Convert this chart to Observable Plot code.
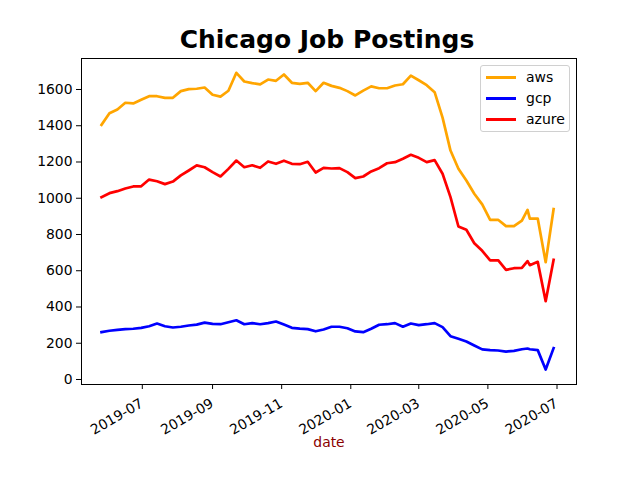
<!DOCTYPE html>
<html>
<head>
<meta charset="utf-8">
<script src="https://cdn.jsdelivr.net/npm/d3@7"></script>
<script src="https://cdn.jsdelivr.net/npm/@observablehq/plot@0.6"></script>
<style>
  html, body { margin: 0; padding: 0; background: #fff; }
  #wrap { position: relative; width: 640px; height: 480px; font-family: "DejaVu Sans", sans-serif; }
  #title { height: 50px; box-sizing: border-box; padding-top: 27px; text-align: center; font-weight: bold; font-size: 25px; line-height: 25px; color: #000; padding-left: 14px; font-family: "DejaVu Sans", sans-serif; }
  #legend { position: absolute; left: 480px; top: 65px; width: 90px; height: 67px; box-sizing: border-box; border: 1px solid #d0d0d0; border-radius: 3px; background: rgba(255,255,255,0.8); }
  .lg-row { position: absolute; left: 0; height: 20px; width: 100%; }
  .lg-sw { position: absolute; left: 5px; top: 9px; width: 30px; height: 3px; }
  .lg-tx { position: absolute; left: 45px; top: 0px; font-size: 14px; line-height: 20px; color: #000; }
  #chart svg [aria-label="y-axis tick label"] { font-size: 13.9px; font-family: "DejaVu Sans", sans-serif; }
</style>
</head>
<body>
<div id="wrap">
  <div id="title"></div>
  <div id="chart"></div>
  <div id="legend"></div>
</div>
<script>
const titleText = "Chicago Job Postings";
const xLabel = ["date"];
const series = ["aws", "gcp", "azure"];
const colors = ["orange", "blue", "red"];

const dates = [
  "2019-05-26","2019-06-02","2019-06-09","2019-06-16","2019-06-23","2019-06-30",
  "2019-07-07","2019-07-14","2019-07-21","2019-07-28",
  "2019-08-04","2019-08-11","2019-08-18","2019-08-25",
  "2019-09-01","2019-09-08","2019-09-15","2019-09-22","2019-09-29",
  "2019-10-06","2019-10-13","2019-10-20","2019-10-27",
  "2019-11-03","2019-11-10","2019-11-17","2019-11-24",
  "2019-12-01","2019-12-08","2019-12-15","2019-12-22","2019-12-29",
  "2020-01-05","2020-01-12","2020-01-19","2020-01-26",
  "2020-02-02","2020-02-09","2020-02-16","2020-02-23",
  "2020-03-01","2020-03-08","2020-03-15","2020-03-22","2020-03-29",
  "2020-04-05","2020-04-12","2020-04-19","2020-04-26",
  "2020-05-03","2020-05-10","2020-05-17","2020-05-24","2020-05-31",
  "2020-06-05","2020-06-07","2020-06-14","2020-06-21","2020-06-28"
];

const aws = [1405,1469,1490,1527,1523,1543,1563,1563,1554,1554,
             1591,1602,1604,1611,1571,1561,1593,1692,1644,1635,
             1628,1655,1648,1683,1637,1631,1637,1591,1637,1620,
             1609,1591,1567,1594,1617,1607,1607,1622,1629,1677,
             1651,1624,1585,1445,1263,1163,1098,1025,966,881,
             881,846,846,877,936,888,888,647,940];
const gcp = [261,269,274,278,280,285,294,309,294,287,
             291,298,303,314,307,305,316,327,305,311,
             305,311,320,303,285,281,278,266,276,291,
             291,283,265,261,280,302,305,311,291,309,
             300,305,311,289,239,225,210,188,166,162,
             160,154,158,167,171,167,162,55,173];
const azure = [1006,1028,1039,1054,1065,1066,1103,1094,1078,1092,
               1126,1153,1181,1171,1144,1120,1162,1208,1171,1182,
               1168,1203,1190,1207,1190,1188,1201,1142,1168,1164,
               1166,1144,1111,1120,1148,1166,1193,1199,1218,1240,
               1223,1199,1210,1135,1006,844,826,752,710,657,
               658,605,614,616,653,631,649,432,660];

const yTicks = [0, 200, 400, 600, 800, 1000, 1200, 1400, 1600];
const xTicks = ["2019-07-01","2019-09-01","2019-11-01","2020-01-01","2020-03-01","2020-05-01","2020-07-01"];

const valuesBySeries = { aws, gcp, azure };
const rows = [];
for (const s of series) {
  valuesBySeries[s].forEach((v, i) => rows.push({ series: s, date: new Date(dates[i] + "T00:00:00Z"), value: v }));
}
const xTickDates = xTicks.map(d => new Date(d + "T00:00:00Z"));
const fmtMonth = d3.utcFormat("%Y-%m");

document.getElementById("title").textContent = titleText;

const chart = Plot.plot({
  width: 640,
  height: 430,
  marginTop: 8,
  marginBottom: 96,
  marginLeft: 81,
  marginRight: 64,
  style: { fontFamily: "DejaVu Sans, sans-serif", fontSize: "13px", background: "white", color: "black", overflow: "visible" },
  x: { type: "utc", domain: [new Date("2019-05-08T08:00:00Z"), new Date("2020-07-18T05:00:00Z")] },
  y: { domain: [-27.6, 1771] },
  color: { domain: series, range: colors },
  marks: [
    Plot.lineY(rows, { x: "date", y: "value", stroke: "series", z: "series", strokeWidth: 2.7, strokeLinecap: "square", strokeLinejoin: "round" }),
    Plot.frame({ stroke: "black", strokeWidth: 1 }),
    Plot.axisY({ ticks: yTicks, tickFormat: d => String(d), tickSize: 5, tickPadding: 4, label: null }),
    Plot.axisX({ ticks: xTickDates, tickFormat: () => "", tickSize: 5, label: null }),
    Plot.text(xTickDates, { x: d => d, text: d => fmtMonth(d), frameAnchor: "bottom", rotate: -30, textAnchor: "end", lineAnchor: "top", dx: -3, dy: 13, fontSize: 13.9, fill: "black" }),
    Plot.text(xLabel, { frameAnchor: "bottom", dy: 62, text: d => d, fill: "darkred", fontSize: 13.9 })
  ]
});
document.getElementById("chart").appendChild(chart);

const legend = document.getElementById("legend");
series.forEach((s, i) => {
  const row = document.createElement("div");
  row.className = "lg-row";
  row.style.top = (1 + i * 21) + "px";
  const sw = document.createElement("div");
  sw.className = "lg-sw";
  sw.style.background = colors[i];
  const tx = document.createElement("div");
  tx.className = "lg-tx";
  tx.textContent = s;
  row.appendChild(sw);
  row.appendChild(tx);
  legend.appendChild(row);
});
</script>
</body>
</html>
